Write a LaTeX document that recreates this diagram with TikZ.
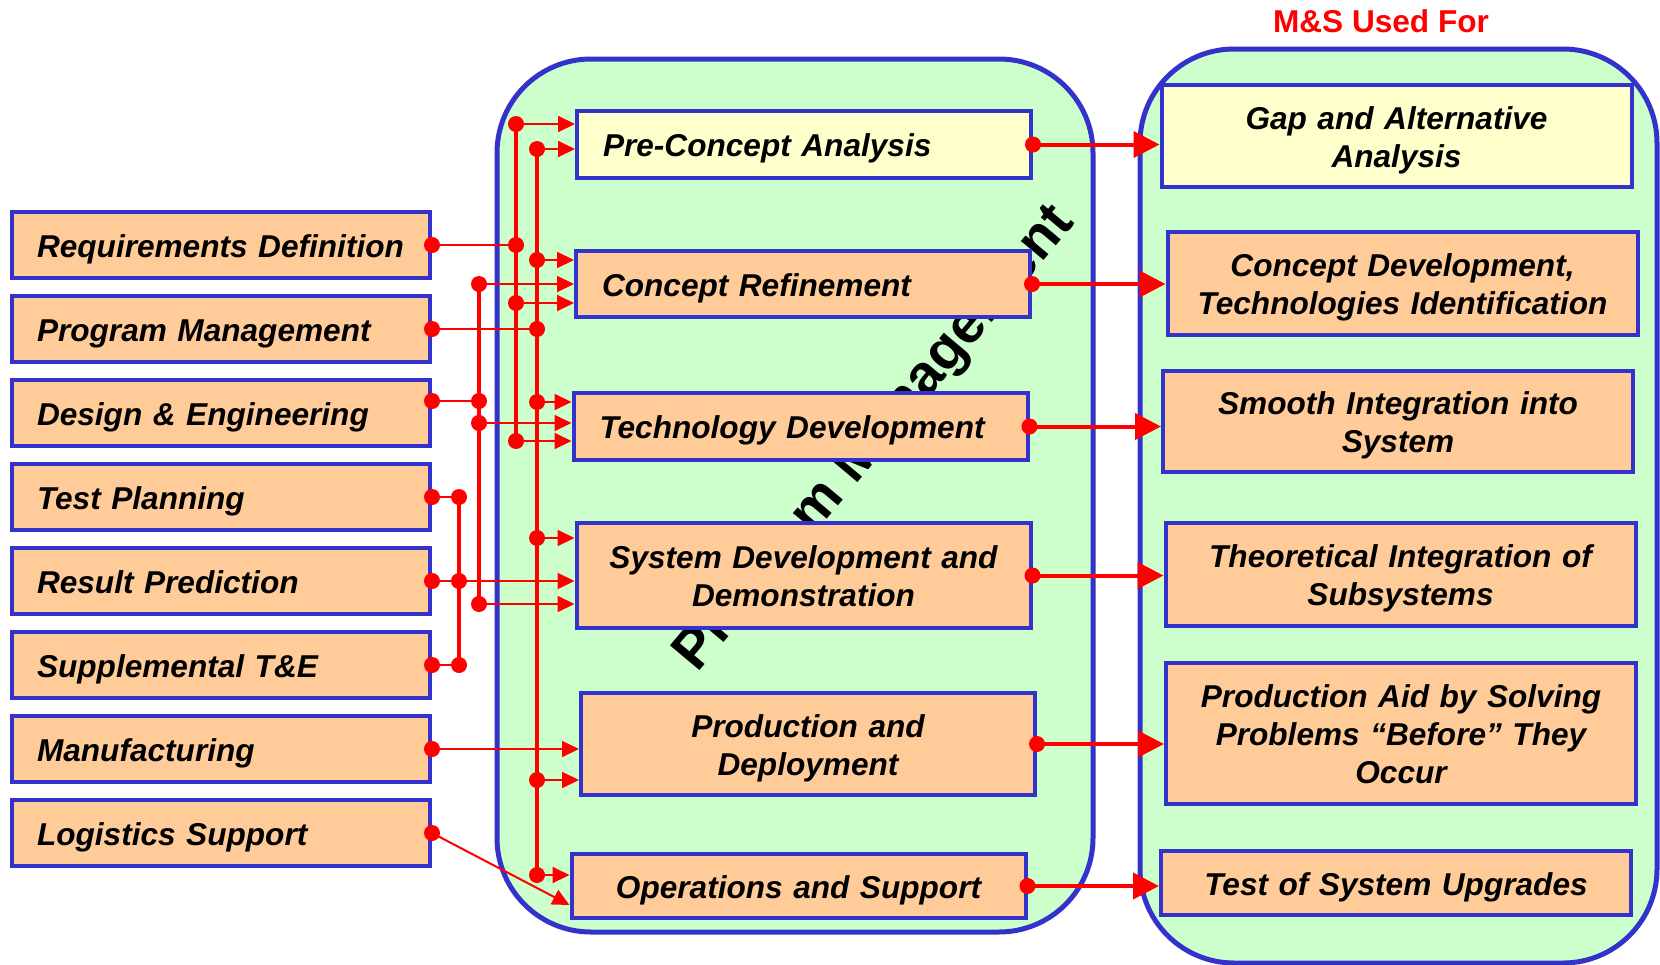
\documentclass[tikz,border=0pt]{standalone}
\usepackage{fontspec}
\setmainfont{Liberation Sans}
\usetikzlibrary{arrows.meta,positioning,calc}
\definecolor{frame}{RGB}{51,51,204}
\definecolor{peach}{RGB}{255,204,153}
\definecolor{cream}{RGB}{255,255,204}
\definecolor{mint}{RGB}{204,255,204}
\newcommand\cellfont{\fontsize{15.8}{19}\selectfont\bfseries\itshape}

\begin{document}
\begin{tikzpicture}[x=0.5pt,y=-0.5pt,
  cell/.style={draw=frame,line width=2pt,fill=peach,font=\cellfont,
    text height=12pt,text depth=0pt},
  twoline/.style={text depth=19pt},
  threeline/.style={text depth=38pt},
  lbox/.style={cell,minimum height=33pt,text width=184pt,inner xsep=12.5pt,align=left},
  mbox/.style={cell,text width=201pt,inner xsep=13pt},
  ubox/.style={cell,text width=209pt,inner xsep=13pt,align=center},
  pane/.style={draw=frame,fill=mint,line width=2.5pt,rounded corners=47pt},
  link/.style={red,line width=1pt},
  arr/.style={link,-{Triangle[length=8.5pt,width=8pt]}},
  bus/.style={red,line width=1.8pt},
  bigarr/.style={red,line width=2pt,-{Triangle[length=13pt,width=13pt]}}
]
\useasboundingbox (0,0) rectangle (1660,964);
\draw[pane] (497,59) rectangle (1093,932);
\draw[pane] (1140,49) rectangle (1657,963);
\node[rotate=50,font=\fontsize{28}{30}\selectfont\bfseries] (pmlabel) at (876,440) {Program Management};
\node[text=red,font=\fontsize{15.8}{19}\selectfont\bfseries] (title) at (1381,21) {M\&S Used For};

% inputs
\node[lbox] (reqdef) at (221,245) {Requirements Definition};
\node[lbox,below=7pt of reqdef] (progmgmt) {Program Management};
\node[lbox,below=7pt of progmgmt] (design) {Design \& Engineering};
\node[lbox,below=7pt of design] (testplan) {Test Planning};
\node[lbox,below=7pt of testplan] (result) {Result Prediction};
\node[lbox,below=7pt of result] (supp) {Supplemental T\&E};
\node[lbox,below=7pt of supp] (manuf) {Manufacturing};
\node[lbox,below=7pt of manuf] (logist) {Logistics Support};

% phases
\node[mbox,fill=cream,align=left,minimum height=33.5pt] (precon) at (804,144.5) {Pre-Concept Analysis};
\node[mbox,align=left,minimum height=33pt] (concref) at (803,284) {Concept Refinement};
\node[mbox,align=left,minimum height=33.5pt] (techdev) at (800.5,426.5) {Technology Development};
\node[mbox,twoline,align=center,minimum height=52.5pt] (sysdev) at (803.5,575.5) {System Development and\\Demonstration};
\node[mbox,twoline,align=center,minimum height=51pt] (prod) at (808,744) {Production and\\Deployment};
\node[mbox,align=center,minimum height=32pt] (ops) at (798.5,886) {Operations and Support};

% uses
\node[ubox,twoline,fill=cream,minimum height=51pt] (gap) at (1396.5,136) {Gap and Alternative\\Analysis};
\node[ubox,twoline,minimum height=51.5pt] (conceptdev) at (1402.5,283.5) {Concept Development,\\Technologies Identification};
\node[ubox,twoline,minimum height=50.5pt] (smooth) at (1398,421.5) {Smooth Integration into\\System};
\node[ubox,twoline,minimum height=51.5pt] (theory) at (1400.5,574.5) {Theoretical Integration of\\Subsystems};
\node[ubox,threeline,minimum height=70.5pt] (prodaid) at (1401,733.5) {Production Aid by Solving\\Problems “Before” They\\Occur};
\node[ubox,minimum height=32pt] (upgrades) at (1396,883) {Test of System Upgrades};

% bus junctions
\coordinate (busA) at (516,0);
\coordinate (busB) at (537,0);
\coordinate (busC) at (479,0);
\coordinate (busD) at (459,0);
\coordinate (dsg) at ([yshift=6pt]design.east);
\coordinate (a1) at (516,124);
\coordinate (a2) at (reqdef.east -| busA);
\coordinate (a3) at (516,303);
\coordinate (a4) at (516,441);
\coordinate (b1) at (537,149);
\coordinate (b2) at (537,260);
\coordinate (b3) at (progmgmt.east -| busB);
\coordinate (b4) at (537,402);
\coordinate (b5) at (537,538);
\coordinate (b6) at (537,780);
\coordinate (b7) at (537,875);
\coordinate (c1) at (479,284);
\coordinate (c2) at (dsg -| busC);
\coordinate (c3) at (479,423);
\coordinate (c4) at (479,604);
\coordinate (d1) at (testplan.east -| busD);
\coordinate (d2) at (result.east -| busD);
\coordinate (d3) at (supp.east -| busD);

\draw[bus] (a1) -- (a4);
\draw[bus] (b1) -- (b7);
\draw[bus] (c1) -- (c4);
\draw[bus] (d1) -- (d3);
\draw[link] (reqdef.east) -- (a2);
\draw[link] (progmgmt.east) -- (b3);
\draw[link] (dsg) -- (c2);
\draw[link] (testplan.east) -- (d1);
\draw[link] (supp.east) -- (d3);
\draw[arr] (result.east) -- (result.east -| sysdev.west);
\draw[arr] (manuf.east) -- (manuf.east -| prod.west);
\draw[arr] (logist.east) -- ([yshift=-9.5pt]ops.west);
\draw[arr] (a1) -- (a1 -| precon.west);
\draw[arr] (b1) -- (b1 -| precon.west);
\draw[arr] (b2) -- (b2 -| concref.west);
\draw[arr] (c1) -- (c1 -| concref.west);
\draw[arr] (a3) -- (a3 -| concref.west);
\draw[arr] (b4) -- (b4 -| techdev.west);
\draw[arr] (c3) -- (c3 -| techdev.west);
\draw[arr] (a4) -- (a4 -| techdev.west);
\draw[arr] (b5) -- (b5 -| sysdev.west);
\draw[arr] (c4) -- (c4 -| sysdev.west);
\draw[arr] (b6) -- (b6 -| prod.west);
\draw[arr] (b7) -- (b7 -| ops.west);

\draw[bigarr] (precon.east) -- (precon.east -| gap.west);
\draw[bigarr] (concref.east) -- (concref.east -| conceptdev.west);
\draw[bigarr] (techdev.east) -- (techdev.east -| smooth.west);
\draw[bigarr] (sysdev.east) -- (sysdev.east -| theory.west);
\draw[bigarr] (prod.east) -- (prod.east -| prodaid.west);
\draw[bigarr] (ops.east) -- (ops.east -| upgrades.west);

% dots
\fill[red] (reqdef.east) circle (4pt) (progmgmt.east) circle (4pt)
  (dsg) circle (4pt) (testplan.east) circle (4pt)
  (result.east) circle (4pt) (supp.east) circle (4pt)
  (manuf.east) circle (4pt) (logist.east) circle (4pt);
\fill[red] (a1) circle (4pt) (a2) circle (4pt) (a3) circle (4pt) (a4) circle (4pt)
  (b1) circle (4pt) (b2) circle (4pt) (b3) circle (4pt) (b4) circle (4pt)
  (b5) circle (4pt) (b6) circle (4pt) (b7) circle (4pt)
  (c1) circle (4pt) (c2) circle (4pt) (c3) circle (4pt) (c4) circle (4pt)
  (d1) circle (4pt) (d2) circle (4pt) (d3) circle (4pt);
\fill[red] (precon.east) circle (4pt) (concref.east) circle (4pt)
  (techdev.east) circle (4pt) (sysdev.east) circle (4pt)
  (prod.east) circle (4pt) (ops.east) circle (4pt);
\end{tikzpicture}
\end{document}
